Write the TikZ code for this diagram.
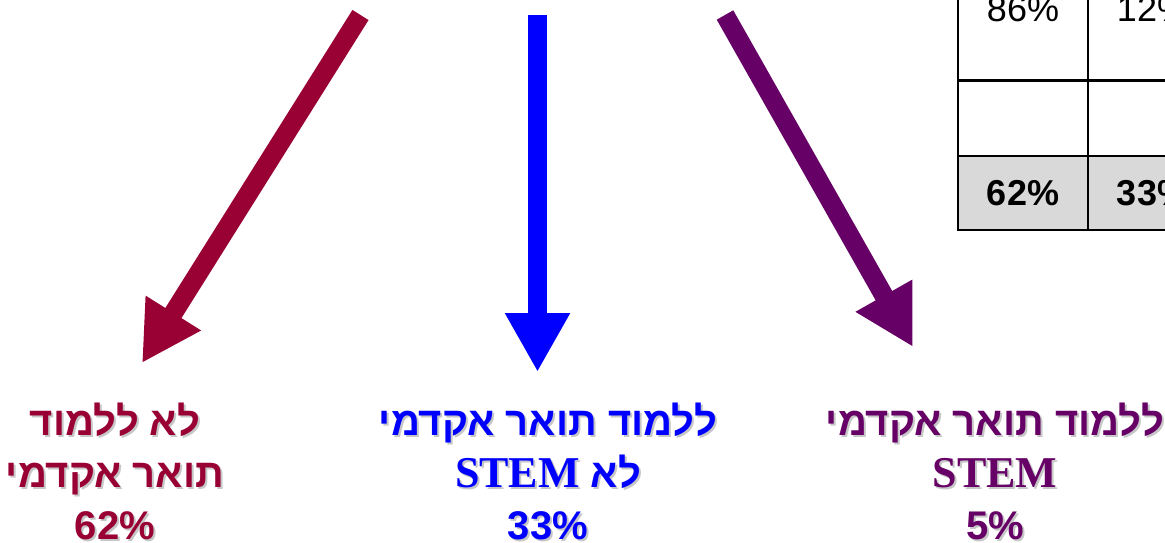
\documentclass[tikz,border=0pt]{standalone}
\usepackage{fontspec}
\setmainfont{Liberation Sans}
\newfontfamily\hebfont[Script=Hebrew]{Liberation Sans}
\newfontfamily\stemfont{Liberation Serif}
\newcommand{\stemword}{{\stemfont\fontsize{44}{52}\selectfont STEM}}
\TeXXeTstate=1
\usetikzlibrary{arrows.meta}
\definecolor{noacadred}{HTML}{990033}
\definecolor{acadblue}{HTML}{0000FF}
\definecolor{stempurple}{HTML}{660066}
\definecolor{sumgray}{HTML}{D9D9D9}
\tikzset{
  flow/.style={line width=19pt, -{Triangle[length=59pt,width=61pt]}},
  lbl/.style={align=center, inner sep=0pt,
    font=\hebfont\bfseries\fontsize{40}{52}\selectfont},
  lblshadow/.style={lbl, text=black!22},
  cell/.style={draw=black, line width=2.2pt, minimum width=130pt, inner sep=0pt,
    font=\fontsize{36}{40}\selectfont},
  sumcell/.style={cell, fill=sumgray, font=\bfseries\fontsize{36}{40}\selectfont}
}
\begin{document}
\begin{tikzpicture}[x=1pt, y=-1pt]
  \clip (0,0) rectangle (1165,542);
  \fill[white] (0,0) rectangle (1165,542);

  % table (only its corner shows)
  \node[cell, minimum height=142pt] (c11) at (1023,9) {86\%};
  \node[cell, minimum height=142pt] (c12) at (1153,9) {12\%};
  \node[cell, minimum height=75pt] (c21) at (1023,118.5) {};
  \node[cell, minimum height=75pt] (c22) at (1153,118.5) {};
  \node[sumcell, minimum height=74pt] (c31) at (1023,193) {62\%};
  \node[sumcell, minimum height=74pt] (c32) at (1153,193) {33\%};

  % arrows
  \coordinate (noacad-tail) at (360.5,15);
  \coordinate (noacad-tip) at (142,363);
  \coordinate (acad-tail) at (537.5,15);
  \coordinate (acad-tip) at (537.5,372);
  \coordinate (stem-tail) at (725,15);
  \coordinate (stem-tip) at (913,347);
  \draw[flow, noacadred] (noacad-tail) -- (noacad-tip);
  \draw[flow, acadblue] (acad-tail) -- (acad-tip);
  \draw[flow, stempurple] (stem-tail) -- (stem-tip);

  % labels
  \node[lblshadow] (noacad-sh) at (117,473)
    {\beginR לא ללמוד\endR\\ \beginR תואר אקדמי\endR\\ 62\%};
  \node[lbl, text=noacadred] (noacad) at (115,471)
    {\beginR לא ללמוד\endR\\ \beginR תואר אקדמי\endR\\ 62\%};
  \node[lblshadow] (acad-sh) at (550,473)
    {\beginR ללמוד תואר אקדמי\endR\\ \beginR לא \beginL\stemword\endL\endR\\ 33\%};
  \node[lbl, text=acadblue] (acad) at (548,471)
    {\beginR ללמוד תואר אקדמי\endR\\ \beginR לא \beginL\stemword\endL\endR\\ 33\%};
  \node[lblshadow] (stem-sh) at (997,473)
    {\beginR ללמוד תואר אקדמי\endR\\ \stemword\\ 5\%};
  \node[lbl, text=stempurple] (stem) at (995,471)
    {\beginR ללמוד תואר אקדמי\endR\\ \stemword\\ 5\%};
\end{tikzpicture}
\end{document}
